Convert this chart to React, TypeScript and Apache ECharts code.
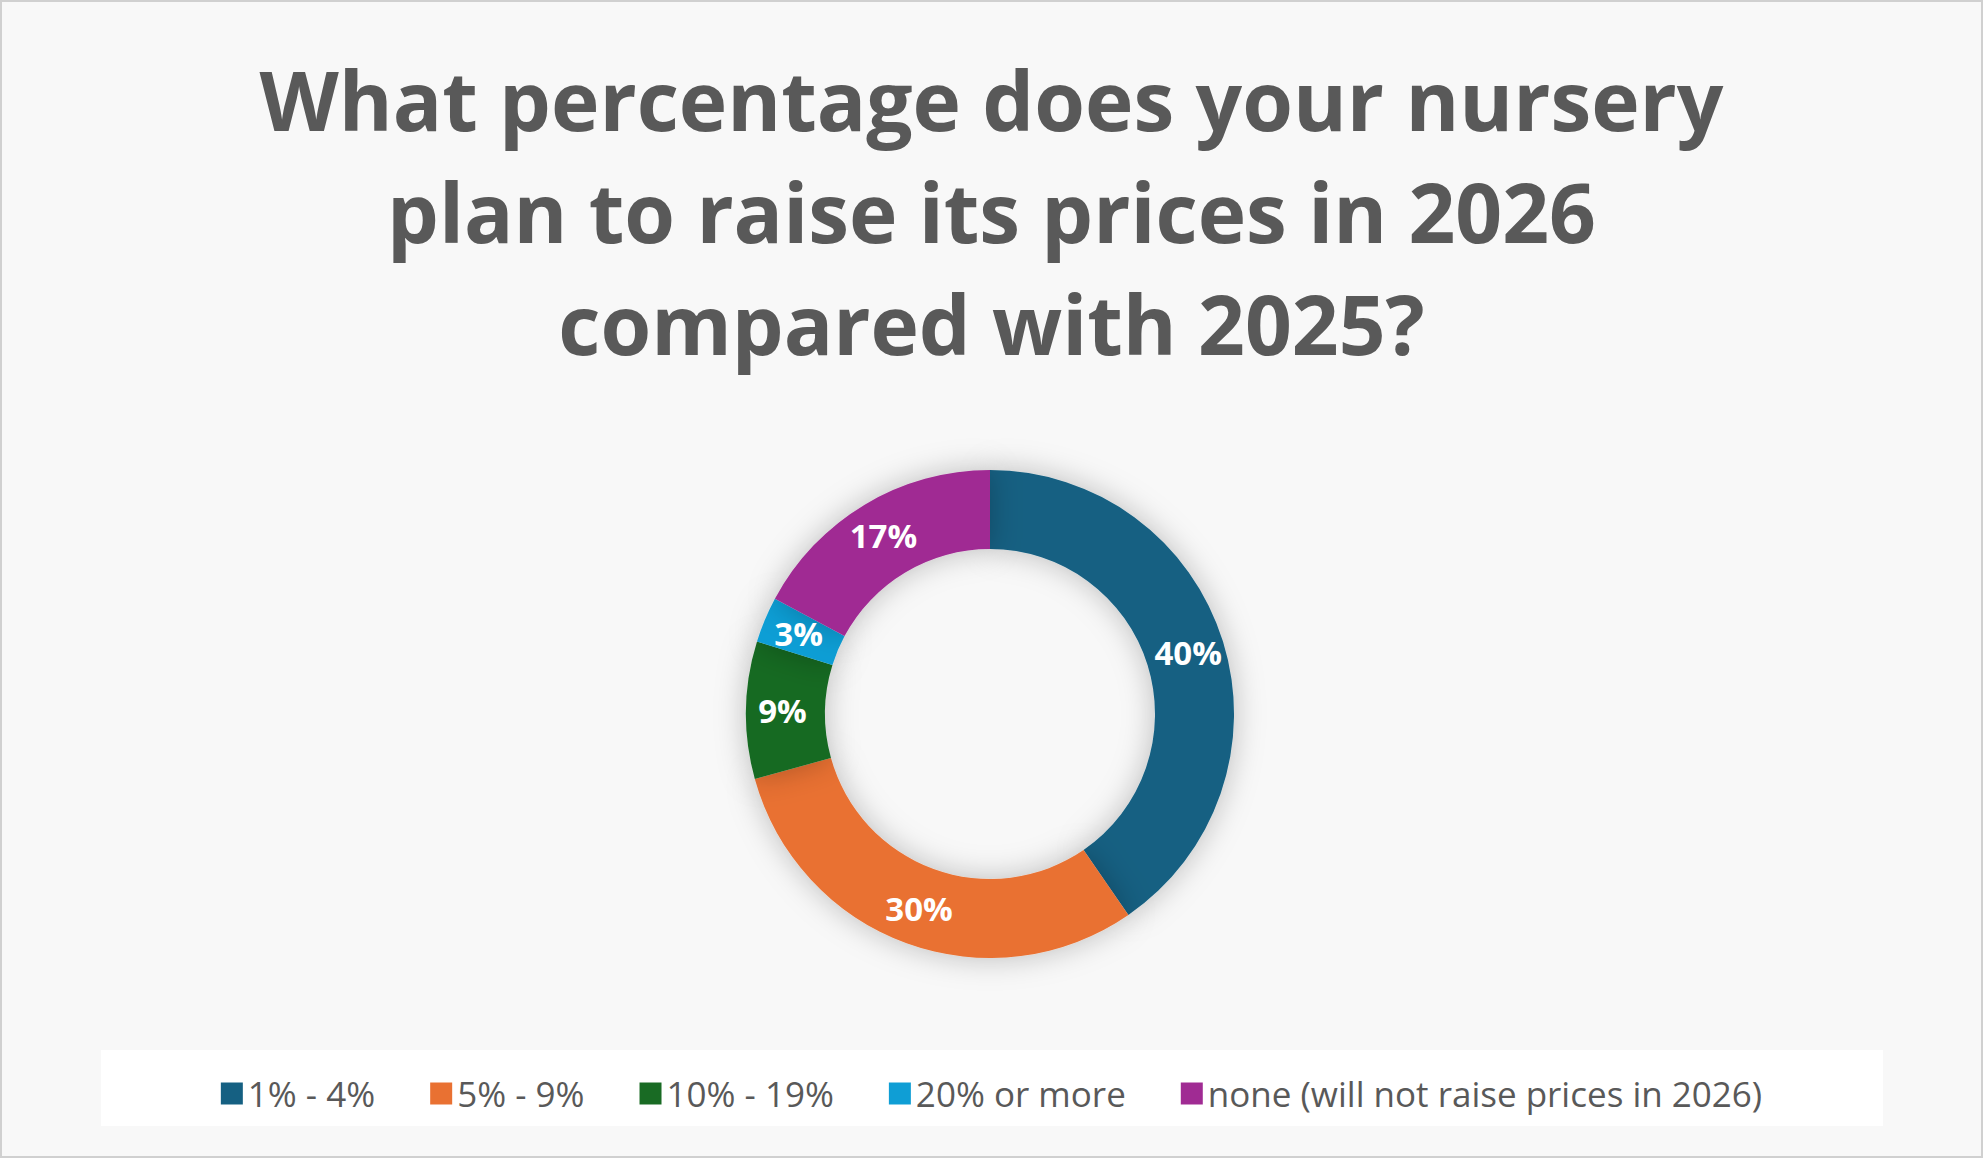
import { useEffect, useRef } from "react";
import * as echarts from "echarts";

const categories = ["1% - 4%", "5% - 9%", "10% - 19%", "20% or more", "none (will not raise prices in 2026)"];
const values = [40, 30, 9, 3, 17];
const colors = ["#156082", "#E97132", "#196B24", "#0F9ED5", "#A02B93"];
const titleText = "What percentage does your nursery\nplan to raise its prices in 2026\ncompared with 2025?";

export default function App() {
  const divRef = useRef<HTMLDivElement>(null);

  useEffect(() => {
    document.body.style.margin = "0";
    const chart = echarts.init(divRef.current!, null, { renderer: "svg" });
    chart.setOption({
      animation: false,
      backgroundColor: "#f8f8f8",
      title: {
        text: titleText,
        left: "center",
        top: 38,
        textStyle: {
          fontFamily: "Open Sans",
          fontWeight: "bold",
          fontSize: 82,
          lineHeight: 112,
          color: "#595959",
        },
      },
      graphic: [
        {
          type: "rect",
          shape: { x: 1, y: 1, width: 1981, height: 1156 },
          style: { fill: "none", stroke: "#d0d0d0", lineWidth: 2 },
        },
        {
          type: "rect",
          shape: { x: 101, y: 1050, width: 1782, height: 76 },
          style: { fill: "#ffffff" },
        },
      ],
      legend: {
        data: categories,
        bottom: 42,
        left: "center",
        icon: "rect",
        itemWidth: 22,
        itemHeight: 22,
        itemGap: 55,
        textStyle: { fontFamily: "Open Sans", fontSize: 35, color: "#595959" },
      },
      series: [
        {
          type: "pie",
          center: [990, 714],
          radius: [165, 244],
          startAngle: 90,
          clockwise: true,
          data: categories.map((name, i) => ({
            name,
            value: values[i],
            itemStyle: { color: colors[i] },
          })),
          itemStyle: { shadowBlur: 30, shadowColor: "rgba(0,0,0,0.25)" },
          label: {
            show: true,
            position: "inside",
            formatter: "{c}%",
            color: "#ffffff",
            fontFamily: "Open Sans",
            fontWeight: "bold",
            fontSize: 33,
          },
          labelLine: { show: false },
        },
      ],
    });
    return () => chart.dispose();
  }, []);

  return <div ref={divRef} style={{ width: 1983, height: 1158 }} />;
}
